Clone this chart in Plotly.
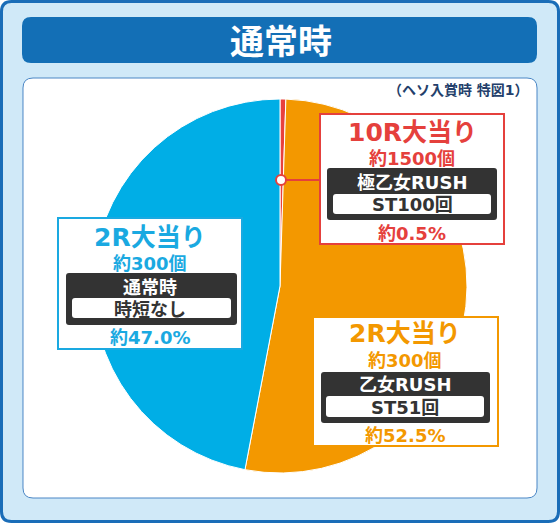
import plotly.graph_objects as go

# ---- data ----
slice_labels = ["10R大当り", "2R大当り(乙女RUSH)", "2R大当り(通常時)"]
slice_values = [0.5, 52.5, 47.0]
slice_colors = ["#e8413d", "#f39800", "#00aee6"]

title_text = "通常時"
subtitle_text = "（ヘソ入賞時 特図1）"

box_titles = ["10R大当り", "2R大当り", "2R大当り"]
box_payouts = ["約1500個", "約300個", "約300個"]
box_modes = ["極乙女RUSH", "乙女RUSH", "通常時"]
box_details = ["ST100回", "ST51回", "時短なし"]
box_percents = ["約0.5%", "約52.5%", "約47.0%"]

W, H = 560, 523
FONT = "DejaVu Sans, Noto Sans CJK JP"
CJK = "Noto Sans CJK JP"


def X(x):
    return x / W


def Y(y):
    return 1 - y / H


def rr(x0, y0, x1, y1, r):
    pts = [
        ("M", [(x0 + r, y0)]),
        ("L", [(x1 - r, y0)]),
        ("Q", [(x1, y0), (x1, y0 + r)]),
        ("L", [(x1, y1 - r)]),
        ("Q", [(x1, y1), (x1 - r, y1)]),
        ("L", [(x0 + r, y1)]),
        ("Q", [(x0, y1), (x0, y1 - r)]),
        ("L", [(x0, y0 + r)]),
        ("Q", [(x0, y0), (x0 + r, y0)]),
    ]
    s = ""
    for cmd, ps in pts:
        s += cmd + " " + " ".join(f"{X(a):.5f},{Y(b):.5f}" for a, b in ps) + " "
    return s + "Z"


fig = go.Figure()
fig.add_trace(go.Pie(
    labels=slice_labels, values=slice_values,
    marker=dict(colors=slice_colors, line=dict(color="white", width=1)),
    sort=False, direction="clockwise", rotation=0,
    textinfo="none", hoverinfo="skip", showlegend=False,
    domain=dict(x=[X(93), X(467)], y=[Y(473), Y(99)]),
))

shapes = []
# background frame
shapes.append(dict(type="path", path=rr(1.5, 1.5, 558.5, 521.5, 10), xref="paper", yref="paper",
                   fillcolor="#d0e9f8", line=dict(color="#1a6db8", width=3), layer="below"))
shapes.append(dict(type="path", path=rr(22, 17, 537, 63, 9), xref="paper", yref="paper",
                   fillcolor="#136fb6", line=dict(width=0), layer="below"))
shapes.append(dict(type="path", path=rr(23, 78, 537, 498, 10), xref="paper", yref="paper",
                   fillcolor="white", line=dict(color="#4a86c5", width=1), layer="below"))

boxes = [
    dict(outer=(320, 114, 504, 244), dark=(327, 168, 497, 220), white=(333, 194, 491, 214),
         color="#e5403c", cx=412, ys=(133, 158, 182, 204, 233)),
    dict(outer=(313, 317, 498, 446), dark=(321, 372, 490, 423), white=(326, 396, 484, 417),
         color="#f39800", cx=405, ys=(333, 360, 384, 407, 435)),
    dict(outer=(58, 218, 242, 349), dark=(66, 273, 237, 325), white=(72, 298, 231, 318),
         color="#1aa9e1", cx=150, ys=(238, 263, 287, 309, 337)),
]

annotations = []
for i, b in enumerate(boxes):
    x0, y0, x1, y1 = b["outer"]
    shapes.append(dict(type="rect", xref="paper", yref="paper", x0=X(x0), x1=X(x1), y0=Y(y1), y1=Y(y0),
                       fillcolor="white", line=dict(color=b["color"], width=2), layer="above"))
    shapes.append(dict(type="path", path=rr(*b["dark"], 3), xref="paper", yref="paper",
                       fillcolor="#333333", line=dict(width=0), layer="above"))
    shapes.append(dict(type="path", path=rr(*b["white"], 3), xref="paper", yref="paper",
                       fillcolor="white", line=dict(width=0), layer="above"))
    ys = b["ys"]
    items = [
        (box_titles[i], 25, b["color"]),
        (box_payouts[i], 18, b["color"]),
        (box_modes[i], 18, "white"),
        (box_details[i], 18, "#333333"),
        (box_percents[i], 18, b["color"]),
    ]
    for (txt, size, col), yy in zip(items, ys):
        annotations.append(dict(text="<b>" + txt + "</b>", x=X(b["cx"]), y=Y(yy), xref="paper", yref="paper",
                                xanchor="center", yanchor="middle", showarrow=False,
                                font=dict(family=FONT, size=size, color=col)))

# connector for 10R slice
shapes.append(dict(type="line", xref="paper", yref="paper", x0=X(286), x1=X(320), y0=Y(180), y1=Y(180),
                   line=dict(color="#e5403c", width=2), layer="above"))
shapes.append(dict(type="circle", xref="paper", yref="paper", x0=X(276), x1=X(286), y0=Y(185), y1=Y(175),
                   fillcolor="white", line=dict(color="#e5403c", width=2), layer="above"))

annotations.append(dict(text="<b>" + title_text + "</b>", x=X(281), y=Y(40), xref="paper", yref="paper",
                        xanchor="center", yanchor="middle", showarrow=False,
                        font=dict(family=CJK, size=34, color="white")))
annotations.append(dict(text="<b>" + subtitle_text + "</b>", x=X(531), y=Y(90), xref="paper", yref="paper",
                        xanchor="right", yanchor="middle", showarrow=False,
                        font=dict(family=FONT, size=14, color="#243f6b")))

fig.update_layout(
    width=W, height=H, margin=dict(l=0, r=0, t=0, b=0),
    paper_bgcolor="white", plot_bgcolor="white",
    shapes=shapes, annotations=annotations, showlegend=False,
)
fig.write_html("out.html", config={"displayModeBar": False},
               post_script="document.body.style.margin='0';document.body.style.overflow='hidden';")
